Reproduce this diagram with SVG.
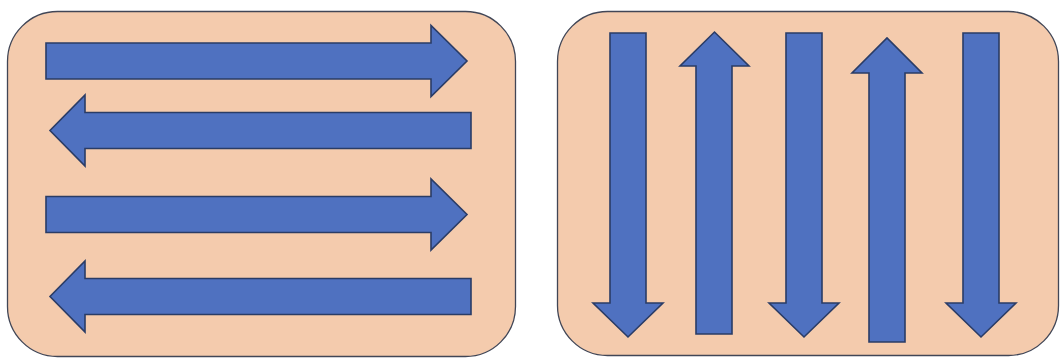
<svg xmlns="http://www.w3.org/2000/svg" width="1060" height="358" viewBox="0 0 1060 358">
  <style>
    .panel { fill: #F4CBAD; stroke: #414656; stroke-width: 1.3; }
    .arrow { fill: #4F71C0; stroke: #2A3C66; stroke-width: 1.6; stroke-linejoin: miter; }
  </style>
  <rect width="1060" height="358" fill="#FFFFFF"/>
  <g id="panel-left">
    <rect class="panel" x="7.5" y="11.5" width="508" height="345" rx="50" ry="50"/>
    <g id="h-arrow-1"><path class="arrow" d="M46,43 H431 V25.5 L467,61 L431,96.5 V79 H46 Z"/></g>
    <g id="h-arrow-2"><path class="arrow" d="M471,112.5 H85 V95 L50,130.5 L85,166 V148.5 H471 Z"/></g>
    <g id="h-arrow-3"><path class="arrow" d="M46,196.5 H431 V179 L467,214.5 L431,250 V232.5 H46 Z"/></g>
    <g id="h-arrow-4"><path class="arrow" d="M471,278.5 H85 V261 L50,296.5 L85,332 V314.5 H471 Z"/></g>
  </g>
  <g id="panel-right">
    <rect class="panel" x="557.5" y="11.5" width="501" height="344" rx="50" ry="50"/>
    <g id="v-arrow-1"><path class="arrow" d="M610,33 V303 H593 L628,337 L663,303 H646 V33 Z"/></g>
    <g id="v-arrow-2"><path class="arrow" d="M696,334 V66 H680 L714.5,32 L749,66 H732 V334 Z"/></g>
    <g id="v-arrow-3"><path class="arrow" d="M786,33 V303 H769 L804,337 L839,303 H822 V33 Z"/></g>
    <g id="v-arrow-4"><path class="arrow" d="M869,342 V73 H852 L887,38 L922,73 H905 V342 Z"/></g>
    <g id="v-arrow-5"><path class="arrow" d="M963,33 V303 H946 L981,337 L1016,303 H999 V33 Z"/></g>
  </g>
</svg>
